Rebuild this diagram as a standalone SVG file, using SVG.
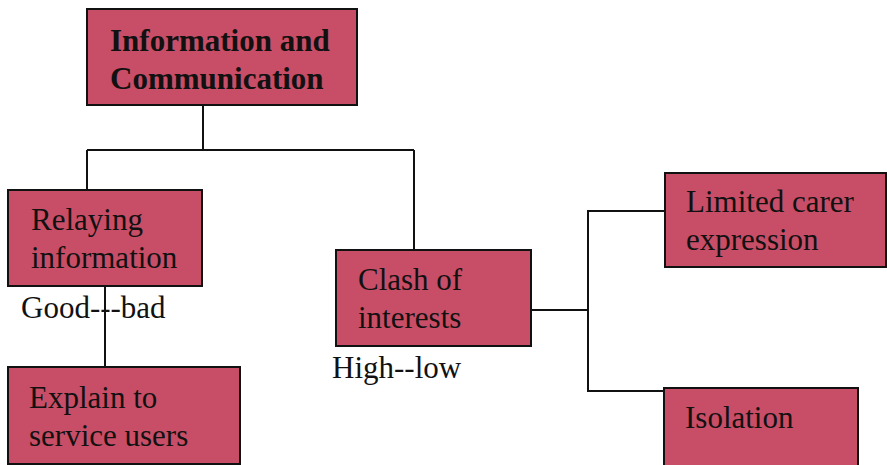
<svg xmlns="http://www.w3.org/2000/svg" width="887" height="465" viewBox="0 0 887 465">
  <style>
    .box { fill: #c84d66; stroke: #111; stroke-width: 2; }
    .lbl { font-family: "Liberation Serif", "Times New Roman", serif; font-size: 31px; fill: #111; }
    .bold { font-weight: bold; }
    .wire { fill: none; stroke: #111; stroke-width: 2; }
  </style>
  <rect width="887" height="465" fill="#ffffff"/>

  <!-- connectors -->
  <g id="connectors">
    <path class="wire" d="M203,105 V150 M87,150 H414 M87,150 V190 M414,150 V250"/>
    <path class="wire" d="M105,286 V367"/>
    <path class="wire" d="M531,310 H588 M665,211 H588 V391 H665"/>
  </g>

  <g id="node-info">
    <rect class="box" x="87" y="9" width="270" height="96"/>
    <text class="lbl bold" x="110" y="51">Information and</text>
    <text class="lbl bold" x="110" y="89">Communication</text>
  </g>

  <g id="node-relaying">
    <rect class="box" x="8" y="190" width="194" height="96"/>
    <text class="lbl" x="31" y="230">Relaying</text>
    <text class="lbl" x="31" y="268">information</text>
  </g>

  <text id="scale-good-bad" class="lbl" x="21" y="318">Good---bad</text>

  <g id="node-explain">
    <rect class="box" x="8" y="367" width="232" height="97"/>
    <text class="lbl" x="29" y="408">Explain to</text>
    <text class="lbl" x="29" y="446">service users</text>
  </g>

  <g id="node-clash">
    <rect class="box" x="336" y="250" width="195" height="96"/>
    <text class="lbl" x="358" y="290">Clash of</text>
    <text class="lbl" x="358" y="328">interests</text>
  </g>

  <text id="scale-high-low" class="lbl" x="332" y="378">High--low</text>

  <g id="node-limited">
    <rect class="box" x="665" y="173" width="221" height="94"/>
    <text class="lbl" x="686" y="212">Limited carer</text>
    <text class="lbl" x="686" y="250">expression</text>
  </g>

  <g id="node-isolation">
    <rect class="box" x="664" y="388" width="194" height="82"/>
    <text class="lbl" x="685" y="428">Isolation</text>
  </g>
</svg>
